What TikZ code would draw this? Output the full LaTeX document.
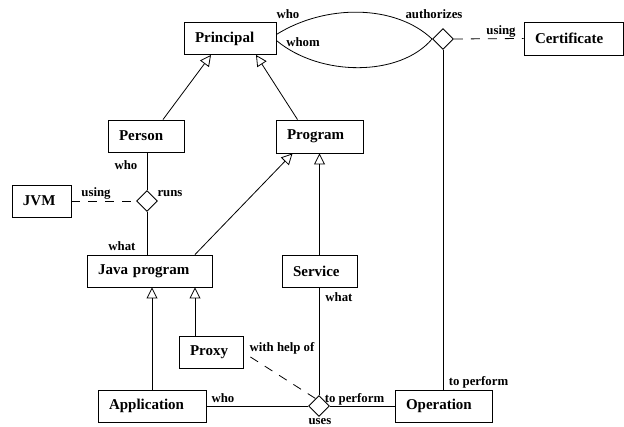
\documentclass[tikz,border=0pt]{standalone}
\usepackage{fontspec}
\setmainfont{Liberation Serif}
\usetikzlibrary{arrows.meta,shapes.geometric}
\newcommand\bxfont{\fontsize{15}{18}\selectfont\bfseries}
\newcommand\lbfont{\fontsize{12.8}{15}\selectfont\bfseries}
\begin{document}
\begin{tikzpicture}[x=1pt,y=-1pt,
 box/.style={draw, line width=0.9pt, font=\bxfont, inner xsep=11pt, inner ysep=0pt, minimum height=32pt, align=left},
 rel/.style={draw, diamond, aspect=1, line width=0.9pt, minimum width=21pt, minimum height=21pt, inner sep=0pt},
 lab/.style={font=\lbfont, inner sep=0pt, anchor=base},
 ln/.style={line width=0.8pt},
 gen/.style={ln, -{Triangle[open, width=11pt, length=11pt]}},
 dsh/.style={ln, dash pattern=on 9pt off 8pt}]
\useasboundingbox (0,0) rectangle (624,427);
% boxes
\node[box, text width=70pt] (principal) at (230,38.5) {Principal};
\node[box, text width=77pt, minimum height=33pt] (cert) at (573.5,38.5) {Certificate};
\node[box, text width=54pt] (person) at (146,136) {Person};
\node[box, text width=65pt, minimum height=33pt] (program) at (319.5,136.5) {Program};
\node[box, text width=37pt] (jvm) at (41.5,201) {JVM};
\node[box, text width=103pt] (java) at (149.5,271) {Java program};
\node[box, text width=53pt] (service) at (319.5,271) {Service};
\node[box, text width=42pt] (proxy) at (211,352) {Proxy};
\node[box, text width=86pt] (app) at (152,406) {Application};
\node[box, text width=75pt] (oper) at (443.5,406) {Operation};
% relations
\node[rel] (auth) at (443,39) {};
\node[rel] (runs) at (147,201) {};
\node[rel] (uses) at (319,406) {};
% generalizations
\draw[gen] ([xshift=17pt]person.north) -- ([xshift=-19pt]principal.south);
\draw[gen] ([xshift=-22pt]program.north) -- ([xshift=26pt]principal.south);
\draw[gen] ([xshift=45.5pt]java.north) -- ([xshift=-27pt]program.south);
\draw[gen] (service.north) -- (program.south);
\draw[gen] (app.north) -- (app.north |- java.south);
\draw[gen] ([xshift=-16pt]proxy.north) -- ([xshift=45.5pt]java.south);
% associations
\draw[ln] ([yshift=4pt]principal.east) .. controls (325,4) and (395,4) .. (auth.west);
\draw[ln] ([yshift=-2pt]principal.east) .. controls (320,77) and (400,77) .. (auth.west);
\draw[dsh] (auth.east) -- (cert.west);
\draw[ln] (auth.south) -- (auth.south |- oper.north);
\draw[ln] ([xshift=1pt]person.south) -- (runs.north);
\draw[ln] (runs.south) -- (runs.south |- java.north);
\draw[dsh] (jvm.east) -- (runs.west);
\draw[ln] (service.south -| uses.north) -- (uses.north);
\draw[ln] (app.east) -- (uses.west);
\draw[ln] (uses.east) -- (oper.west);
\draw[dsh] ([xshift=7pt,yshift=-5pt]proxy.east) -- (uses.115);
% labels
\node[lab] (lwho1) at (288,18.5) {who};
\node[lab] (lwhom) at (303,46.5) {whom};
\node[lab] (lauth) at (434,18.5) {authorizes};
\node[lab] (lusing1) at (501,34.5) {using};
\node[lab] (lwho2) at (126,169.5) {who};
\node[lab] (lusing2) at (96,196.5) {using};
\node[lab] (lruns) at (170,196.5) {runs};
\node[lab] (lwhat1) at (122,250.5) {what};
\node[lab] (lwhat2) at (339,301.5) {what};
\node[lab] (lhelp) at (282,352) {with help of};
\node[lab] (lwho3) at (223,402.5) {who};
\node[lab] (lperf1) at (354.5,402.5) {to perform};
\node[lab] (luses) at (320,425) {uses};
\node[lab] (lperf2) at (478.5,385.5) {to perform};
\end{tikzpicture}
\end{document}
